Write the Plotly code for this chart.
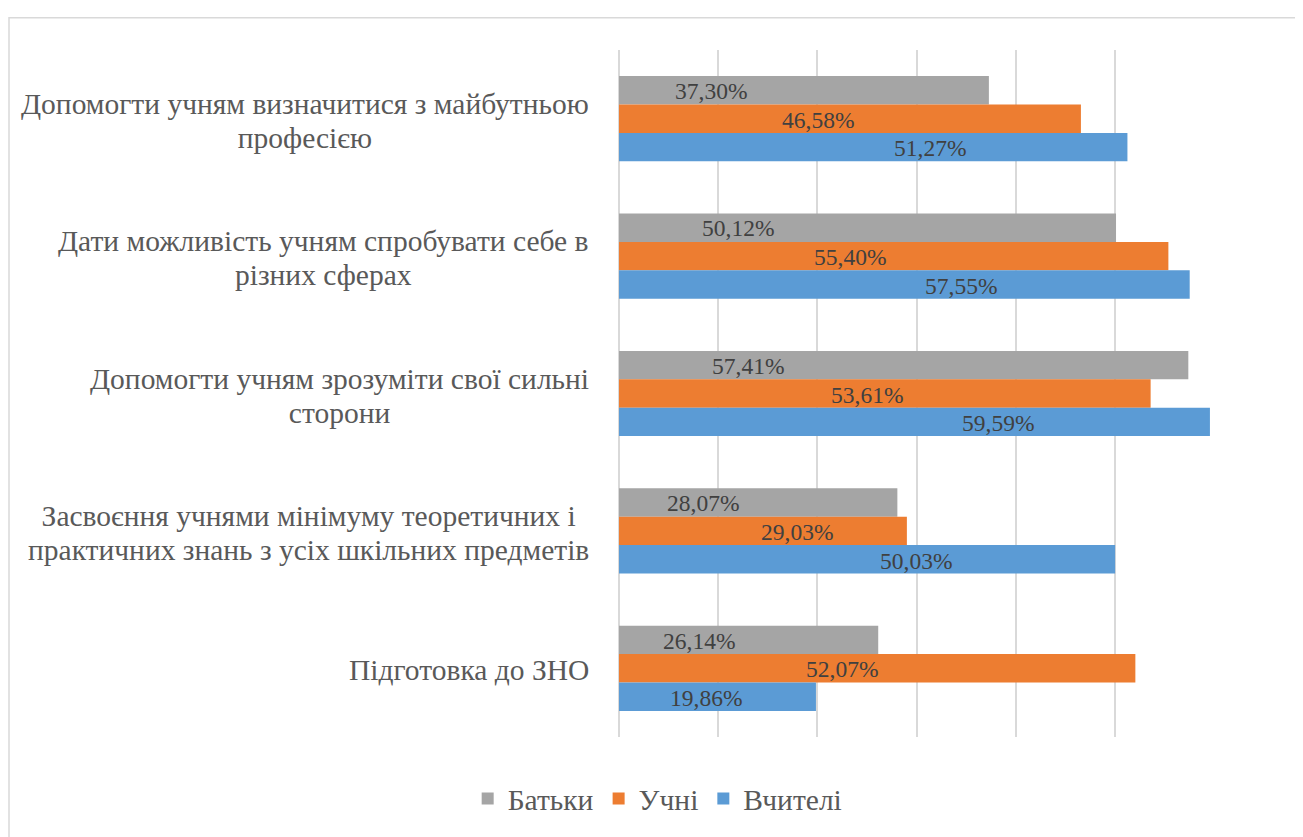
"""Horizontal grouped bar chart: survey answers by respondent group."""

import plotly.graph_objects as go

categories = [
    "Допомогти учням визначитися з майбутньою<br>професією",
    "Дати можливість учням спробувати себе в<br>різних сферах",
    "Допомогти учням зрозуміти свої сильні<br>сторони",
    "Засвоєння учнями мінімуму теоретичних і<br>практичних знань з усіх шкільних предметів",
    "Підготовка до ЗНО",
]
series_names = ["Батьки", "Учні", "Вчителі"]
parents = [37.30, 50.12, 57.41, 28.07, 26.14]
students = [46.58, 55.40, 53.61, 29.03, 52.07]
teachers = [51.27, 57.55, 59.59, 50.03, 19.86]

# where Excel had dragged the data labels to (in axis units)
label_pos_parents = [9.3, 12.0, 13.0, 8.5, 8.1]
label_pos_students = [20.1, 23.3, 25.0, 17.9, 22.5]
label_pos_teachers = [31.4, 34.5, 38.2, 29.9, 8.8]

colors = ["#A5A5A5", "#ED7D31", "#5B9BD5"]
FONT = "Liberation Serif"

fig = go.Figure()
series = [parents, students, teachers]
for name, vals, color in zip(series_names, series, colors):
    fig.add_trace(
        go.Bar(
            y=categories,
            x=vals,
            name=name,
            orientation="h",
            marker=dict(color=color, line=dict(width=0)),
            hovertemplate="%{x:.2f}%<extra>" + name + "</extra>",
        )
    )

# data labels
bar_shift = 28.7
label_positions = [label_pos_parents, label_pos_students, label_pos_teachers]
shifts = [bar_shift, 0, -bar_shift]
for vals, pos, shift in zip(series, label_positions, shifts):
    for cat, v, px in zip(categories, vals, pos):
        fig.add_annotation(
            x=px,
            y=cat,
            xref="x",
            yref="y",
            text=f"{v:.2f}%".replace(".", ","),
            showarrow=False,
            yshift=shift - 1,
            font=dict(family=FONT, size=23.5, color="#404040"),
        )

# category labels, centred lines like Excel; outer size sets the tighter line spacing
for cat in categories:
    fig.add_annotation(
        x=-0.047,
        y=cat,
        xref="paper",
        yref="y",
        text='<span style="font-size:29.5px">' + cat.replace(
            "<br>", '</span><br><span style="font-size:29.5px">'
        ) + "</span>",
        showarrow=False,
        xanchor="right",
        align="center",
        yshift=-2,
        font=dict(family=FONT, size=26, color="#595959"),
    )

# chart area border
fig.add_shape(
    type="rect",
    xref="paper",
    yref="paper",
    x0=-1.0252,
    x1=1.2,
    y0=-0.2,
    y1=1.047,
    line=dict(color="#D9D9D9", width=1.5),
    layer="below",
)

fig.update_layout(
    width=1295,
    height=829,
    margin=dict(l=611, r=89, t=42, b=92),
    barmode="group",
    bargap=0.38,
    bargroupgap=0,
    paper_bgcolor="white",
    plot_bgcolor="white",
    font=dict(family=FONT, color="#595959"),
    xaxis=dict(
        range=[0, 60],
        dtick=10,
        showticklabels=False,
        showgrid=True,
        gridcolor="#D9D9D9",
        gridwidth=1.5,
        zeroline=True,
        zerolinecolor="#D9D9D9",
        zerolinewidth=1.5,
        fixedrange=True,
    ),
    yaxis=dict(
        autorange="reversed",
        showticklabels=False,
        showgrid=False,
        zeroline=False,
        fixedrange=True,
    ),
    legend=dict(
        orientation="h",
        x=0.065,
        xanchor="center",
        y=-0.09,
        yanchor="middle",
        font=dict(family=FONT, size=29.5, color="#595959"),
        itemwidth=30,
        traceorder="normal",
    ),
)

fig.write_html("out.html")
